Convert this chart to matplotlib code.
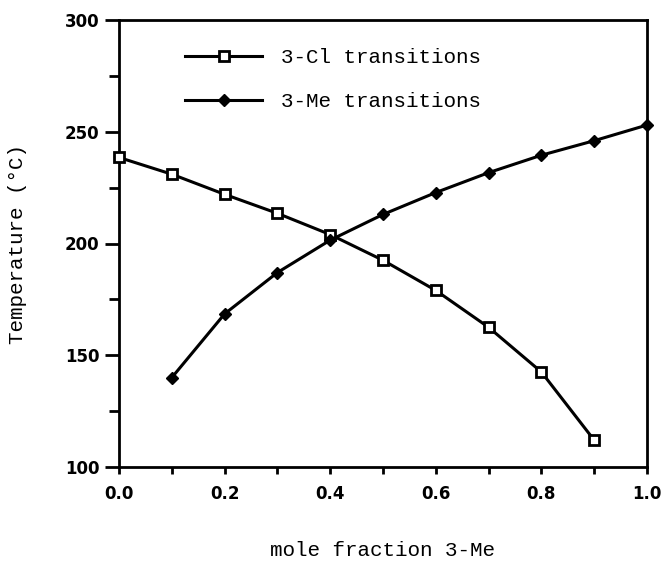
import matplotlib
matplotlib.use("Agg")
import matplotlib.pyplot as plt
from matplotlib.ticker import MultipleLocator

# Data
x_cl = [0.0, 0.1, 0.2, 0.3, 0.4, 0.5, 0.6, 0.7, 0.8, 0.9]
t_cl = [238.5, 231, 222, 213.5, 204, 192.5, 179, 162.5, 142.5, 112]
x_me = [0.1, 0.2, 0.3, 0.4, 0.5, 0.6, 0.7, 0.8, 0.9, 1.0]
t_me = [140, 168.5, 187, 201.5, 213, 222.8, 231.7, 239.5, 246, 253]
label_cl = "3-Cl transitions"
label_me = "3-Me transitions"
xlabel = "mole fraction 3-Me"
ylabel = "Temperature (°C)"

W, H = 664, 561
fig = plt.figure(figsize=(W / 100, H / 100), dpi=100)
left, right, top, bottom = 119, 647, 20, 467
ax = fig.add_axes([left / W, 1 - bottom / H, (right - left) / W, (bottom - top) / H])

ax.plot(x_cl, t_cl, color="black", lw=2.2, marker="s", ms=7, mfc="white",
        mec="black", mew=2, label=label_cl, clip_on=False, zorder=3)
ax.plot(x_me, t_me, color="black", lw=2.2, marker="D", ms=6.5, mfc="black",
        mec="black", label=label_me, clip_on=False, zorder=3)

ax.set_xlim(0, 1.0)
ax.set_ylim(100, 300)
ax.xaxis.set_major_locator(MultipleLocator(0.2))
ax.xaxis.set_minor_locator(MultipleLocator(0.1))
ax.yaxis.set_major_locator(MultipleLocator(50))
ax.yaxis.set_minor_locator(MultipleLocator(25))
ax.set_xticklabels([f"{v:.1f}" for v in ax.get_xticks()])
for s in ax.spines.values():
    s.set_linewidth(2)
ax.tick_params(axis="both", which="both", direction="out", width=2,
               top=False, right=False)
ax.tick_params(axis="x", which="both", length=5, pad=8)
ax.tick_params(axis="y", which="major", length=10, pad=4)
ax.tick_params(axis="y", which="minor", length=7)
for lab in ax.get_xticklabels() + ax.get_yticklabels():
    lab.set_fontfamily("DejaVu Sans")
    lab.set_fontweight("bold")
    lab.set_fontsize(12)

mono = "Liberation Mono"
fig.text((left + right) / 2 / W, 1 - 550 / H, xlabel, ha="center", va="center",
         family=mono, fontsize=15)
fig.text(18 / W, 1 - 244 / H, ylabel, ha="center", va="center", rotation=90,
         family=mono, fontsize=15)

leg = ax.legend(loc="upper left", bbox_to_anchor=((185 - left) / (right - left), 1 - (48 - top) / (bottom - top)),
                frameon=False, prop={"family": mono, "size": 15},
                handlelength=3.7, handletextpad=0.9, labelspacing=1.2,
                borderaxespad=0, borderpad=0)

fig.savefig("out.png", dpi=100)
